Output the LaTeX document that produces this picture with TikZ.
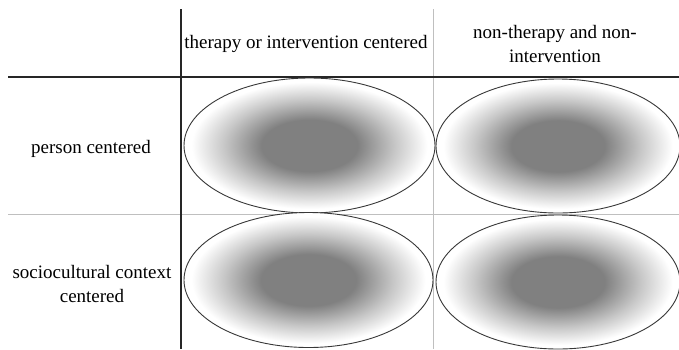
\documentclass[tikz,border=0pt]{standalone}
\usepackage{fontspec}
\setmainfont{Liberation Serif}
\pgfdeclareradialshading{softcore}{\pgfpoint{0bp}{0bp}}{color(0bp)=(black!50); color(9.5bp)=(black!50); color(17bp)=(black!22); color(23.5bp)=(white); color(25bp)=(white); color(50bp)=(white)}
\tikzset{
  lbl/.style={align=center, inner sep=0pt, font=\fontsize{19}{24}\selectfont},
  blackrule/.style={line width=1.4pt, black!85},
  grayrule/.style={line width=1pt, black!25},
  blob/.style={draw=black!78, line width=0.9pt, shading=softcore},
}
\begin{document}
\begin{tikzpicture}[x=1pt,y=-1pt]
\useasboundingbox (0,0) rectangle (679,349);
% grid lines
\coordinate (vbT) at (181,9);  \coordinate (vbB) at (181,349);
\coordinate (vgT) at (433,9);  \coordinate (vgB) at (433,349);
\coordinate (hbL) at (8,77);   \coordinate (hbR) at (679,77);
\coordinate (hgL) at (8,214);  \coordinate (hgR) at (679,214);
\draw[grayrule] (vgT) -- (vgB);
\draw[grayrule] (hgL) -- (hgR);
\draw[blackrule] (vbT) -- (vbB);
\draw[blackrule] (hbL) -- (hbR);
% ellipses
\path[blob] (309.5,145.5) ellipse (125.5 and 67.5);
\path[blob] (558,146) ellipse (122 and 67);
\path[blob] (308.5,280) ellipse (124.5 and 67.5);
\path[blob] (558,282) ellipse (122 and 67);
% labels
\node[lbl] (c1) at (306,44) {therapy or intervention centered};
\node[lbl] (c2) at (555,44) {non-therapy and non-\\intervention};
\node[lbl] (r1) at (91,149) {person centered};
\node[lbl] (r2) at (92,284) {sociocultural context\\centered};
\end{tikzpicture}
\end{document}
